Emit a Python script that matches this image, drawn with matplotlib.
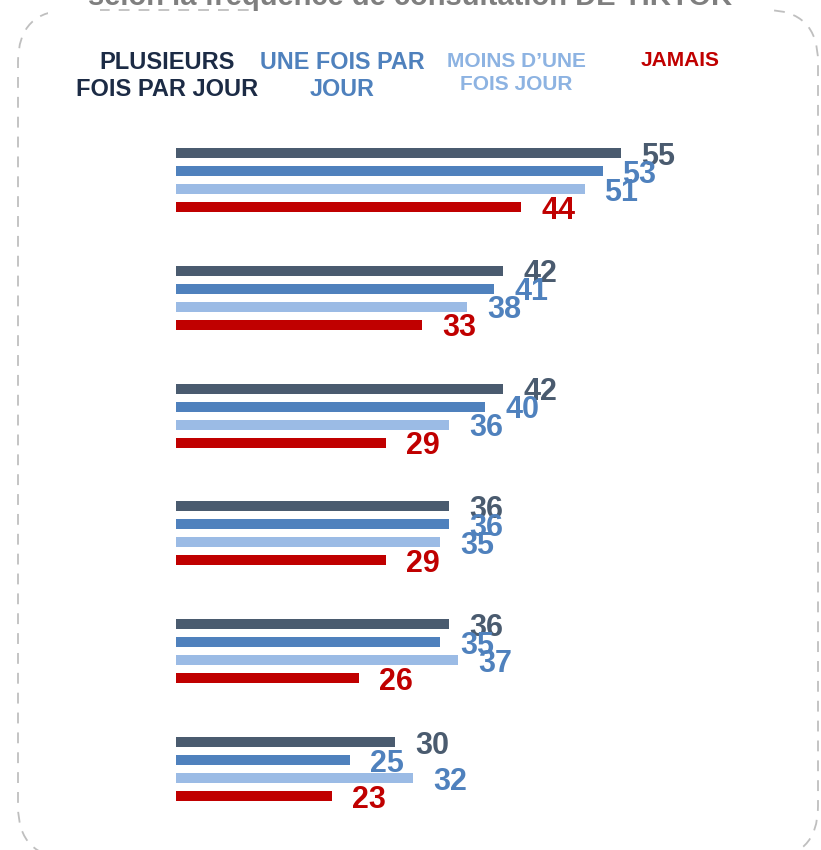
import matplotlib.pyplot as plt
from matplotlib.patches import FancyBboxPatch, Rectangle

plt.rcParams["font.family"] = ["Liberation Sans", "DejaVu Sans"]
plt.rcParams["font.weight"] = "bold"

# data
series = ["PLUSIEURS\nFOIS PAR JOUR", "UNE FOIS PAR\nJOUR", "MOINS D\u2019UNE\nFOIS JOUR", "JAMAIS"]
plusieurs = [55, 42, 42, 36, 36, 30]
une_fois = [53, 41, 40, 36, 35, 25]
moins = [51, 38, 36, 35, 37, 32]
jamais = [44, 33, 29, 29, 26, 23]
title = "selon la fr\u00e9quence de consultation DE TIKTOK"

bar_colors = ["#4a5b6f", "#4f81bd", "#9bbbe5", "#c00000"]
label_colors = ["#4a5b6f", "#4f81bd", "#4f81bd", "#c00000"]
legend_colors = ["#1c2b45", "#4f81bd", "#8db3e2", "#c00000"]

W, H = 821, 850
fig = plt.figure(figsize=(W / 100, H / 100), dpi=100)

# background layer in pixel coordinates (y measured from the bottom)
bg = fig.add_axes([0, 0, 1, 1])
bg.set_xlim(0, W)
bg.set_ylim(0, H)
bg.axis("off")

frame = FancyBboxPatch((18, H - 858), 800, 848, boxstyle="round,pad=0,rounding_size=52",
                       fill=False, ec="#bfbfbf", lw=1.3, ls=(0, (6, 5)))
bg.add_patch(frame)
bg.add_patch(Rectangle((48, H - 14), 52, 20, fc="white", ec="none"))
bg.add_patch(Rectangle((256, H - 14), 516, 20, fc="white", ec="none"))
bg.text(410, H - 5, title, ha="center", va="baseline", fontsize=21, color="#7f7f7f")

# legend header
legend_pos = [(167, 76, 17), (342, 76, 16.8), (516, 73, 15), (680, 60, 15)]
line_gap = [29, 29, 27, 27]
for name, col, (x, y, fs), gap in zip(series, legend_colors, legend_pos, line_gap):
    bg.text(x, H - y, name, ha="center", va="center", fontsize=fs, color=col,
            linespacing=gap / (fs * 100 / 72))

# bars
ax = fig.add_axes([176 / W, 0, (W - 176) / W, 1])
ax.set_ylim(H, 0)
ax.set_xlim(5.76, 5.76 + (W - 176) / 9.03)
ax.axis("off")

first, group_pitch, step = 153, 117.8, 18
all_series = [plusieurs, une_fois, moins, jamais]
for j, vals in enumerate(all_series):
    ys = [first + i * group_pitch + j * step for i in range(len(vals))]
    ax.barh(ys, vals, height=10, color=bar_colors[j], zorder=2 + j)
    for y, v in zip(ys, vals):
        ax.annotate(str(v), (v, y), xytext=(14.4, -8.3), textcoords="offset points",
                    ha="left", va="baseline", fontsize=22, color=label_colors[j],
                    annotation_clip=False, zorder=10)

fig.savefig("out.png", dpi=100)
